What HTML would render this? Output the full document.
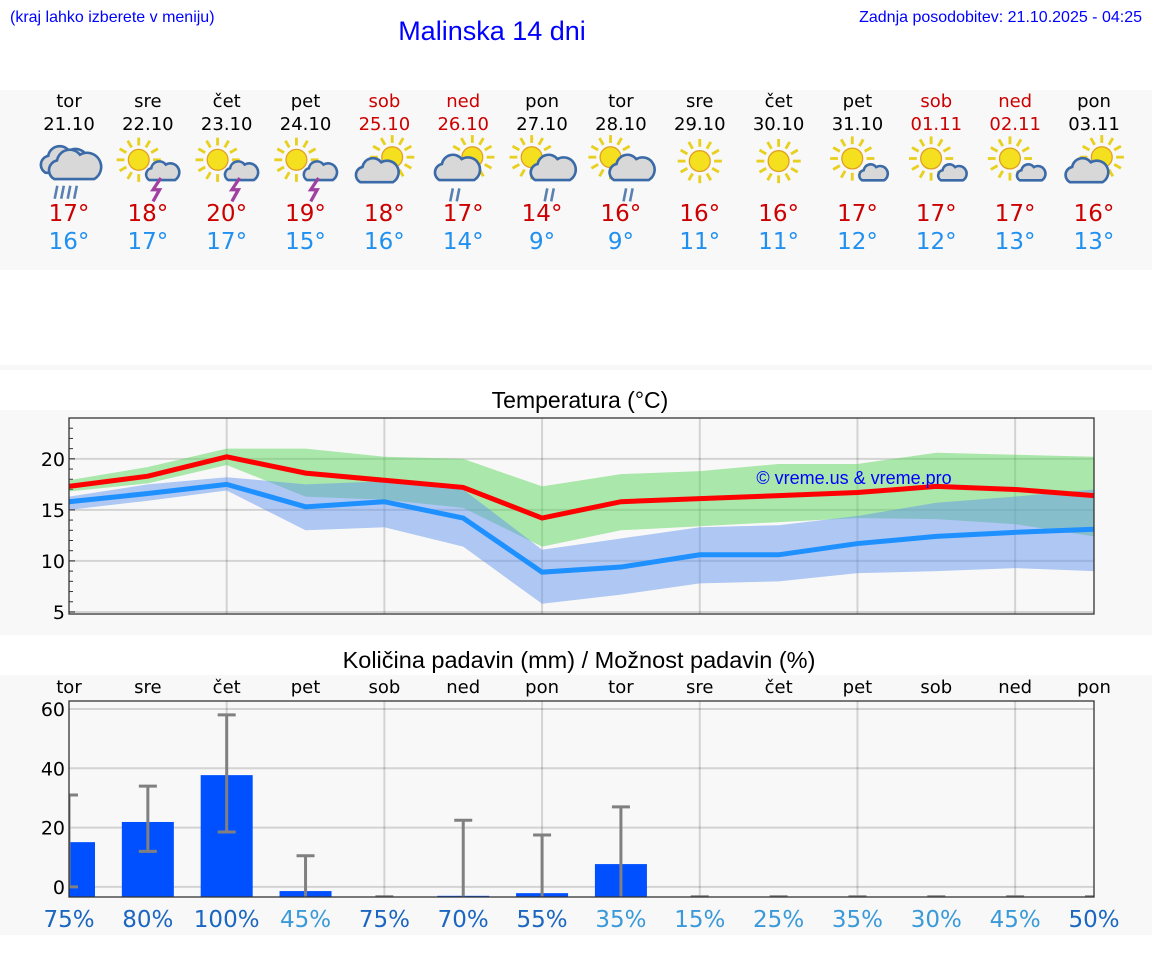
<!DOCTYPE html>
<html><head><meta charset="utf-8"><style>
body{margin:0;background:#fff;width:1152px;height:975px;overflow:hidden}
svg text{font-family:"DejaVu Sans","Liberation Sans",sans-serif}
</style></head><body>
<svg id="s" width="1152" height="975" xmlns="http://www.w3.org/2000/svg">
<text x="10" y="22" font-size="16" fill="#0000ff" style="font-family:'Liberation Sans',sans-serif">(kraj lahko izberete v meniju)</text>
<text x="492" y="40" text-anchor="middle" font-size="27" fill="#0000ff" style="font-family:'Liberation Sans',sans-serif">Malinska 14 dni</text>
<text x="1142" y="22" text-anchor="end" font-size="16" fill="#0000ff" style="font-family:'Liberation Sans',sans-serif">Zadnja posodobitev: 21.10.2025 - 04:25</text>
<rect x="0" y="90" width="1152" height="180" fill="#f8f8f8"/>
<rect x="0" y="365" width="1152" height="5" fill="#f8f8f8"/>
<rect x="0" y="410" width="1152" height="225" fill="#f8f8f8"/>
<rect x="0" y="675" width="1152" height="260" fill="#f8f8f8"/>
<text x="580" y="408" text-anchor="middle" font-size="23" fill="#000" style="font-family:'Liberation Sans',sans-serif">Temperatura (°C)</text>
<text x="579" y="668" text-anchor="middle" font-size="23.5" fill="#000" style="font-family:'Liberation Sans',sans-serif">Količina padavin (mm) / Možnost padavin (%)</text>
<g id="hdr"></g><g id="temp"></g><g id="prec"></g>
</svg>
<script>
const days=["tor","sre","čet","pet","sob","ned","pon","tor","sre","čet","pet","sob","ned","pon"];
const dates=["21.10","22.10","23.10","24.10","25.10","26.10","27.10","28.10","29.10","30.10","31.10","01.11","02.11","03.11"];
const weekend=[0,0,0,0,1,1,0,0,0,0,0,1,1,0];
const icons=["rain","thunder","thunder","thunder","cloudsun","sunrain","sunrain2","sunrain2","sun","sun","suncloud","suncloud","suncloud","cloudsun"];
const tMax=[17,18,20,19,18,17,14,16,16,16,17,17,17,16];
const tMin=[16,17,17,15,16,14,9,9,11,11,12,12,13,13];
const maxLine=[17.3,18.3,20.2,18.6,17.9,17.2,14.2,15.8,16.1,16.4,16.7,17.3,17.0,16.4];
const minLine=[15.8,16.6,17.5,15.3,15.8,14.2,8.9,9.4,10.6,10.6,11.7,12.4,12.8,13.1];
const maxHi=[17.9,19.2,21.0,21.0,20.2,20.0,17.3,18.5,18.8,19.5,19.5,20.6,20.4,20.2];
const maxLo=[16.8,17.6,19.4,16.3,16.0,15.2,11.4,13.0,13.4,13.8,14.2,14.1,13.6,12.4];
const minHi=[16.3,17.5,18.2,17.5,17.8,17.0,11.1,12.2,13.3,13.5,14.4,15.7,16.3,17.0];
const minLo=[15.0,15.9,16.9,13.0,13.3,11.4,5.8,6.7,7.8,8.0,8.8,9.0,9.3,9.0];
const tTicks=[5,10,15,20];
const rain=[18.5,25.3,41.1,2.0,0,0.4,1.3,11.1,0,0,0,0,0,0];
const rainLo=[0,12,18.5,-4,-4,-4,-4,-4,-4,-4,-4,-4,-4,-4];
const rainHi=[31,34,58,10.5,-3.3,22.5,17.5,27,-3.3,-3.3,-3.3,-3.3,-3.3,-3.3];
const chance=[75,80,100,45,75,70,55,35,15,25,35,30,45,50];
const pTicks=[0,20,40,60];
const NS="http://www.w3.org/2000/svg";
function mk(p,t,a,txt){const e=document.createElementNS(NS,t);for(const k in a)e.setAttribute(k,a[k]);if(txt!==undefined)e.textContent=txt;p.appendChild(e);return e;}
const X0=69,X1=1094;
const xs=i=>X0+i*(X1-X0)/13;
const hdr=document.getElementById('hdr');
function sun(g,cx,cy,r){for(let k=0;k<12;k++){const a=k*Math.PI/6;mk(g,'line',{x1:cx+Math.cos(a)*(r+3),y1:cy+Math.sin(a)*(r+3),x2:cx+Math.cos(a)*(r+9),y2:cy+Math.sin(a)*(r+9),stroke:'#e8d020','stroke-width':2.2});}mk(g,'circle',{cx:cx,cy:cy,r:r,fill:'#f5e020',stroke:'#e0a020','stroke-width':1});}
function cloud(g,cx,cy,s){const d=`M${cx-14*s},${cy+8*s} a${7*s},${7*s} 0 0 1 ${2*s},${-13*s} a${9*s},${9*s} 0 0 1 ${16*s},${-4*s} a${7*s},${7*s} 0 0 1 ${10*s},${17*s} z`;mk(g,'path',{d:d,fill:'#d8d8d8',stroke:'#3a6aa8','stroke-width':2});}
function drops(g,cx,cy,n){for(let k=0;k<n;k++)mk(g,'line',{x1:cx+k*5,y1:cy,x2:cx+k*5-2,y2:cy+10,stroke:'#5a80b0','stroke-width':2});}
function bolt(g,cx,cy){mk(g,'path',{d:`M${cx+3},${cy} L${cx-3},${cy+9} L${cx+2},${cy+9} L${cx-3},${cy+18}`,fill:'none',stroke:'#a040a0','stroke-width':2.5});}
for(let i=0;i<14;i++){
 const x=xs(i),col=weekend[i]?'#cc0000':'#000';
 let t=mk(hdr,'text',{x:x,y:107,'text-anchor':'middle','font-size':18,fill:col},days[i]);
 
 t=mk(hdr,'text',{x:x,y:130,'text-anchor':'middle','font-size':18,fill:col},dates[i]);
 
 const g=mk(hdr,'g',{transform:`translate(${x},165) scale(1.3) translate(${-x},-162)`});
 
 const ic=icons[i],cy=162;
 if(ic==='rain'){cloud(g,x-4,cy-2,1);cloud(g,x+4,cy+2,1.1);drops(g,x-9,cy+16,4);}
 else if(ic==='thunder'){sun(g,x-7,cy-4,8);cloud(g,x+11,cy+6,0.7);bolt(g,x+7,cy+10);}
 else if(ic==='cloudsun'){sun(g,x+6,cy-6,8);cloud(g,x-6,cy+6,0.9);}
 else if(ic==='sunrain'){sun(g,x+7,cy-6,8);cloud(g,x-5,cy+4,0.95);drops(g,x-8,cy+18,2);}
 else if(ic==='sunrain2'){sun(g,x-8,cy-6,8);cloud(g,x+8,cy+4,0.95);drops(g,x+4,cy+18,2);}
 else if(ic==='sun'){sun(g,x,cy-3,8);}
 else if(ic==='suncloud'){sun(g,x-4,cy-5,8);cloud(g,x+12,cy+7,0.6);}
 t=mk(hdr,'text',{x:x,y:221,'text-anchor':'middle','font-size':23,fill:'#cc0000'},tMax[i]+'°');
 
 t=mk(hdr,'text',{x:x,y:249,'text-anchor':'middle','font-size':23,fill:'#2090f0'},tMin[i]+'°');
 
}
const tg=document.getElementById('temp');
const TY0=418,TY1=614,TMIN=4.8,TMAX=24.0;
const ty=v=>TY1-(v-TMIN)/(TMAX-TMIN)*(TY1-TY0);
let r=mk(tg,'rect',{x:X0,y:TY0,width:X1-X0,height:TY1-TY0,fill:'#f8f8f8'});

for(let v=5;v<=24;v++){mk(tg,'line',{x1:X0,y1:ty(v),x2:X0+(v%5?4:6),y2:ty(v),stroke:'#333','stroke-width':1});}
tTicks.forEach(v=>{mk(tg,'line',{x1:X0,x2:X1,y1:ty(v),y2:ty(v),stroke:'#000','stroke-opacity':0.15,'stroke-width':2});
 const t=mk(tg,'text',{x:X0-4,y:ty(v)+7,'text-anchor':'end','font-size':19,fill:'#000'},v);
 });
for(let i=2;i<14;i+=2)mk(tg,'line',{x1:xs(i),x2:xs(i),y1:TY0,y2:TY1,stroke:'#000','stroke-opacity':0.15,'stroke-width':2});
function band(hi,lo,fill,name){let d='M'+hi.map((v,i)=>xs(i)+','+ty(v)).join('L')+'L'+lo.map((v,i)=>xs(i)+','+ty(v)).reverse().join('L')+'Z';
 const p=mk(tg,'path',{d:d,fill:fill,'fill-opacity':0.5});}
band(maxHi,maxLo,'#5cd65c','max-temp-range');
band(minHi,minLo,'#6495ed','min-temp-range');
function line(a,c,name){const p=mk(tg,'polyline',{points:a.map((v,i)=>xs(i)+','+ty(v)).join(' '),fill:'none',stroke:c,'stroke-width':5});}
line(minLine,'#1e90ff','min-temp-line');
line(maxLine,'#ff0000','max-temp-line');
let wm=mk(tg,'text',{x:854,y:484,'text-anchor':'middle','font-size':18,fill:'#0000ff',style:"font-family:'Liberation Sans',sans-serif"},'© vreme.us & vreme.pro');

mk(tg,'rect',{x:X0,y:TY0,width:X1-X0,height:TY1-TY0,fill:'none',stroke:'#333','stroke-width':1.3});
const pg=document.getElementById('prec');
const PY0=701,PY1=897,PMIN=-3.4,PMAX=62.7;
const py=v=>PY1-(v-PMIN)/(PMAX-PMIN)*(PY1-PY0);
const ph=v=>v/(PMAX-PMIN)*(PY1-PY0);
r=mk(pg,'rect',{x:X0,y:PY0,width:X1-X0,height:PY1-PY0,fill:'#f8f8f8'});

pTicks.forEach(v=>{mk(pg,'line',{x1:X0,x2:X1,y1:py(v),y2:py(v),stroke:'#000','stroke-opacity':0.15,'stroke-width':2});
 const t=mk(pg,'text',{x:X0-4,y:py(v)+7,'text-anchor':'end','font-size':19,fill:'#000'},v);
 });
for(let i=2;i<14;i+=2)mk(pg,'line',{x1:xs(i),x2:xs(i),y1:PY0,y2:PY1,stroke:'#000','stroke-opacity':0.15,'stroke-width':2});
const clip=mk(pg,'clipPath',{id:'pc'});mk(clip,'rect',{x:X0,y:PY0,width:X1-X0,height:PY1-PY0});
const inner=mk(pg,'g',{'clip-path':'url(#pc)'});
for(let i=0;i<14;i++){
 const x=xs(i);
 let t=mk(pg,'text',{x:x,y:693,'text-anchor':'middle','font-size':18,fill:'#000'},days[i]);
 
 if(rain[i]>0){const b=mk(inner,'rect',{x:x-26,y:PY1-ph(rain[i]),width:52,height:ph(rain[i]),fill:'#0050ff'});
  }
 const e=mk(inner,'g',{stroke:'#808080','stroke-width':3});
 
 if(rainHi[i]>rainLo[i])mk(e,'line',{x1:x,x2:x,y1:py(rainHi[i]),y2:py(rainLo[i])});
 mk(e,'line',{x1:x-9,x2:x+9,y1:py(rainHi[i]),y2:py(rainHi[i])});
 if(rainLo[i]>PMIN)mk(e,'line',{x1:x-9,x2:x+9,y1:py(rainLo[i]),y2:py(rainLo[i])});
 t=mk(pg,'text',{x:x,y:927,'text-anchor':'middle','font-size':23,fill:chance[i]>=50?'#1a66c0':'#3a9ad9'},chance[i]+'%');
 
}
mk(pg,'rect',{x:X0,y:PY0,width:X1-X0,height:PY1-PY0,fill:'none',stroke:'#333','stroke-width':1.3});
</script>
</body></html>
